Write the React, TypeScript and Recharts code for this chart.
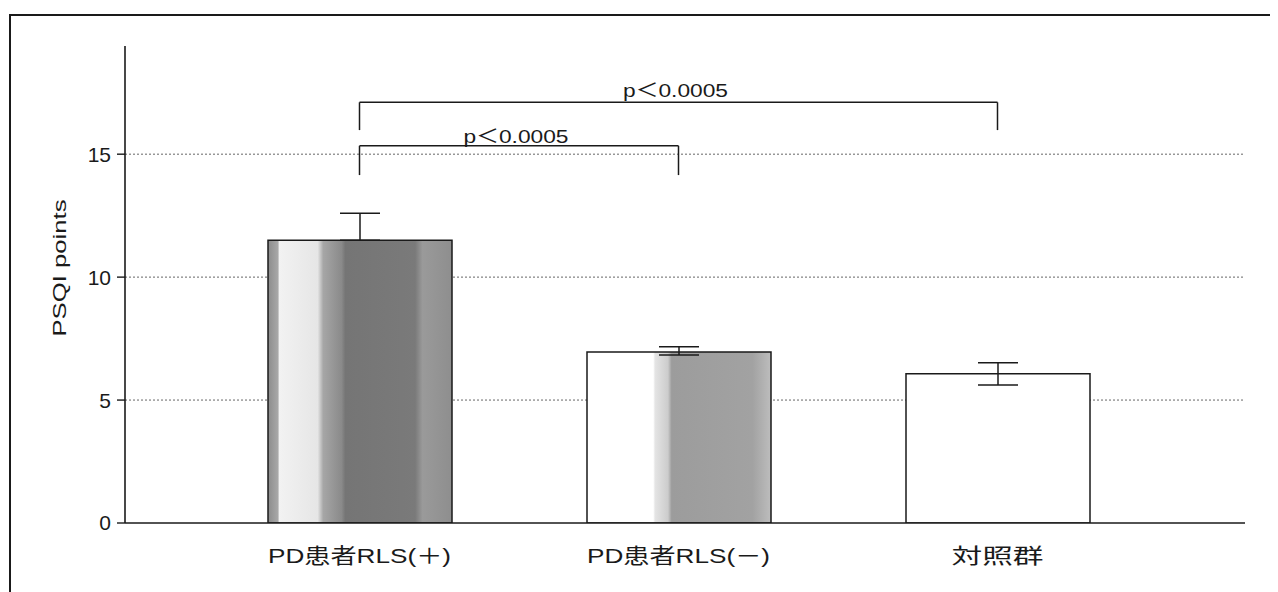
import React from "react";
import {
  BarChart,
  Bar,
  Cell,
  XAxis,
  YAxis,
  CartesianGrid,
  ErrorBar,
  ReferenceLine,
} from "recharts";

// PSQI by group
const groups = ["PD患者RLS(＋)", "PD患者RLS(－)", "対照群"];
const psqiMean = [11.5, 6.95, 6.07];
const errLow = [0, 0.12, 0.46];
const errHigh = [1.1, 0.22, 0.45];
const yTicks = [0, 5, 10, 15];

// significance brackets: [from, to, top, leg bottom]
const brackets = [
  { from: 0, to: 2, top: 17.11, leg: 15.98, text: "p＜0.0005" },
  { from: 0, to: 1, top: 15.34, leg: 14.15, text: "p＜0.0005" },
];

const data = groups.map((g, i) => ({
  group: g,
  psqi: psqiMean[i],
  err: [errLow[i], errHigh[i]],
}));

const FONT = '"Liberation Sans", Arial, "Noto Sans CJK JP", sans-serif';
const INK = "#1a1a1a";
const fills = ["url(#barRlsPlus)", "url(#barRlsMinus)", "#ffffff"];
const tickWidths: Record<string, number> = {
  "PD患者RLS(＋)": 183,
  "PD患者RLS(－)": 183,
  "対照群": 92,
};

function GroupTick(props: any) {
  const { x, y, payload } = props;
  return (
    <text
      x={x}
      y={y + 40}
      textAnchor="middle"
      fontSize={21}
      fontFamily={FONT}
      fill={INK}
      textLength={tickWidths[payload.value]}
      lengthAdjust="spacingAndGlyphs"
    >
      {payload.value}
    </text>
  );
}

function PLabel(props: any) {
  const { viewBox, text, lift } = props;
  if (!viewBox) return null;
  return (
    <text
      x={viewBox.x + viewBox.width / 2 - 3}
      y={viewBox.y - lift}
      textAnchor="middle"
      fontSize={19}
      fontFamily={FONT}
      fill={INK}
      textLength={105}
      lengthAdjust="spacingAndGlyphs"
    >
      {text}
    </text>
  );
}

export default function App() {
  return (
    <div style={{ position: "relative", width: 1270, height: 584, background: "#fff" }}>
      <div
        style={{
          position: "absolute",
          left: 1,
          top: 6,
          right: -10,
          bottom: -10,
          borderLeft: `2px solid ${INK}`,
          borderTop: `2px solid ${INK}`,
          pointerEvents: "none",
        }}
      />
      <BarChart
        width={1270}
        height={584}
        data={data}
        margin={{ top: 38, right: 33, left: 0, bottom: 29 }}
        style={{ position: "absolute", left: 0, top: 0 }}
      >
        <defs>
          <linearGradient id="barRlsPlus" x1="0" y1="0" x2="1" y2="0">
            <stop offset="0" stopColor="#8c8c8c" />
            <stop offset="0.055" stopColor="#a8a8a8" />
            <stop offset="0.06" stopColor="#f2f2f2" />
            <stop offset="0.27" stopColor="#e6e6e6" />
            <stop offset="0.3" stopColor="#a6a6a6" />
            <stop offset="0.4" stopColor="#8a8a8a" />
            <stop offset="0.42" stopColor="#757575" />
            <stop offset="0.8" stopColor="#7a7a7a" />
            <stop offset="0.84" stopColor="#9a9a9a" />
            <stop offset="1" stopColor="#8e8e8e" />
          </linearGradient>
          <linearGradient id="barRlsMinus" x1="0" y1="0" x2="1" y2="0">
            <stop offset="0" stopColor="#ffffff" />
            <stop offset="0.36" stopColor="#ffffff" />
            <stop offset="0.37" stopColor="#e4e4e4" />
            <stop offset="0.44" stopColor="#cccccc" />
            <stop offset="0.46" stopColor="#9c9c9c" />
            <stop offset="0.9" stopColor="#a2a2a2" />
            <stop offset="1" stopColor="#bdbdbd" />
          </linearGradient>
        </defs>
        <CartesianGrid
          horizontal
          vertical={false}
          stroke="#666"
          strokeDasharray="2 2"
          horizontalValues={[5, 10, 15]}
        />
        <XAxis
          dataKey="group"
          height={40}
          padding={{ left: 75, right: 88 }}
          axisLine={{ stroke: INK, strokeWidth: 1.6 }}
          tickLine={false}
          tickSize={0}
          tickMargin={0}
          tick={<GroupTick />}
          interval={0}
        />
        <YAxis
          width={117}
          domain={[0, 19.4]}
          ticks={yTicks}
          allowDataOverflow
          axisLine={{ stroke: INK, strokeWidth: 1.6 }}
          tickLine={{ stroke: INK, strokeWidth: 1.4 }}
          tickSize={8}
          tickMargin={6}
          tick={{ fontSize: 21, fontFamily: FONT, fill: INK }}
          label={{
            content: () => (
              <text
                x={58}
                y={260}
                transform="rotate(-90, 58, 260)"
                textAnchor="middle"
                fontSize={19}
                fontFamily={FONT}
                fill={INK}
                textLength={137}
                lengthAdjust="spacingAndGlyphs"
              >
                PSQI points
              </text>
            ),
          }}
        />
        <Bar dataKey="psqi" barSize={184} stroke={INK} strokeWidth={1.5} isAnimationActive={false}>
          {data.map((d, i) => (
            <Cell key={d.group} fill={fills[i]} />
          ))}
          <ErrorBar dataKey="err" width={20} stroke={INK} strokeWidth={1.5} direction="y" />
        </Bar>
        {brackets.map((b, i) => (
          <ReferenceLine
            key={`h${i}`}
            segment={[
              { x: groups[b.from], y: b.top },
              { x: groups[b.to], y: b.top },
            ]}
            stroke={INK}
            strokeWidth={1.5}
            label={<PLabel text={b.text} lift={i === 0 ? 5 : 3} />}
          />
        ))}
        {brackets.map((b, i) => (
          <ReferenceLine
            key={`l${i}`}
            segment={[
              { x: groups[b.from], y: b.top },
              { x: groups[b.from], y: b.leg },
            ]}
            stroke={INK}
            strokeWidth={1.5}
          />
        ))}
        {brackets.map((b, i) => (
          <ReferenceLine
            key={`r${i}`}
            segment={[
              { x: groups[b.to], y: b.top },
              { x: groups[b.to], y: b.leg },
            ]}
            stroke={INK}
            strokeWidth={1.5}
          />
        ))}
      </BarChart>
    </div>
  );
}
